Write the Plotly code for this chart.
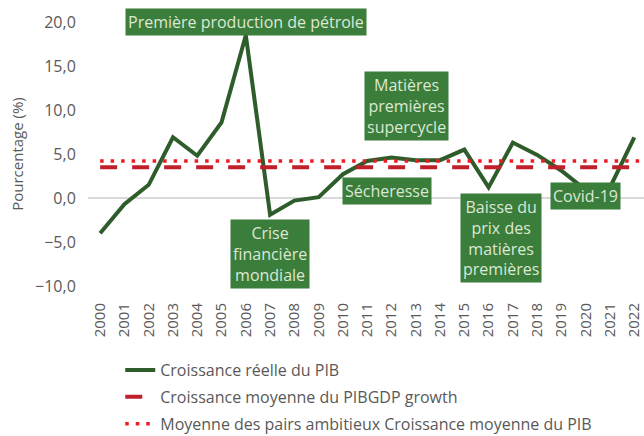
import plotly.graph_objects as go

years = list(range(2000, 2023))
gdp_growth = [-4.0, -0.7, 1.5, 6.9, 4.8, 8.6, 18.5, -1.9, -0.3, 0.1, 2.7, 4.2, 4.6, 4.3, 4.3,
              5.5, 1.2, 6.3, 4.9, 3.1, 0.9, 1.2, 6.9]
avg_growth = 3.5
peer_avg_growth = 4.2

series_names = ["Croissance réelle du PIB",
                "Croissance moyenne du PIBGDP growth",
                "Moyenne des pairs ambitieux Croissance moyenne du PIB"]

ann_text = ["Première production de pétrole", "Crise<br>financière<br>mondiale",
            "Matières<br>premières<br>supercycle", "Sécheresse",
            "Baisse du<br>prix des<br>matières<br>premières", "Covid-19"]
ann_x = [2006.0, 2007.0, 2012.6, 2011.8, 2016.5, 2020.0]
ann_y = [19.95, -6.4, 10.4, 0.8, -4.5, 0.2]

font = "Open Sans, sans-serif"
grey = "#595959"
x_max = 2022.4

fig = go.Figure()
fig.add_trace(go.Scatter(x=years, y=gdp_growth, mode="lines", name=series_names[0],
                         legendgroup="a", line=dict(color="#2E5C2A", width=4)))
xr = [years[0], x_max]
fig.add_trace(go.Scatter(x=xr, y=[avg_growth] * 2, mode="lines", name=series_names[1],
                         legendgroup="b",
                         line=dict(color="#C0202A", width=4, dash="17px,15px")))
fig.add_trace(go.Scatter(x=xr, y=[peer_avg_growth] * 2, mode="lines", name=series_names[2],
                         legendgroup="c",
                         line=dict(color="#EC1C24", width=3.5, dash="3.5px,7px")))

for t, x, y in zip(ann_text, ann_x, ann_y):
    fig.add_annotation(x=x, y=y, text=t, showarrow=False, bgcolor="#3B7D3B",
                       font=dict(family=font, size=16, color="#DDE8D5"),
                       borderpad=2, align="center")

fig.update_layout(
    width=644, height=436,
    margin=dict(l=88, r=0, t=22, b=150),
    paper_bgcolor="white", plot_bgcolor="white",
    font=dict(family=font, size=15, color=grey),
    showlegend=True,
    legend=dict(x=0.058, y=0.19, xref="paper", yref="container",
                xanchor="left", yanchor="top",
                font=dict(family=font, size=16, color=grey),
                tracegroupgap=3, itemwidth=30),
    xaxis=dict(range=[1999.5, x_max], tickvals=years, ticktext=[str(y) for y in years],
               tickangle=-90, showgrid=False, zeroline=False, showline=False,
               ticks="outside", ticklen=10, tickcolor="rgba(0,0,0,0)", automargin=False,
               ticklabeloverflow="allow",
               tickfont=dict(size=15, color=grey)),
    yaxis=dict(range=[-10, 20], tickvals=[-10, -5, 0, 5, 10, 15, 20],
               ticktext=["\u221210,0", "\u22125,0", "0,0", "5,0", "10,0", "15,0", "20,0"],
               showgrid=False, zeroline=True, zerolinecolor="#D9D9D9", zerolinewidth=1.5,
               ticks="outside", ticklen=8, tickcolor="rgba(0,0,0,0)", automargin=False,
               title=dict(text="Pourcentage (%)", font=dict(size=15, color=grey), standoff=7),
               tickfont=dict(size=16, color=grey)),
)

fig.write_html("out.html", config={"displayModeBar": False},
               post_script="document.body.style.margin='0';")
